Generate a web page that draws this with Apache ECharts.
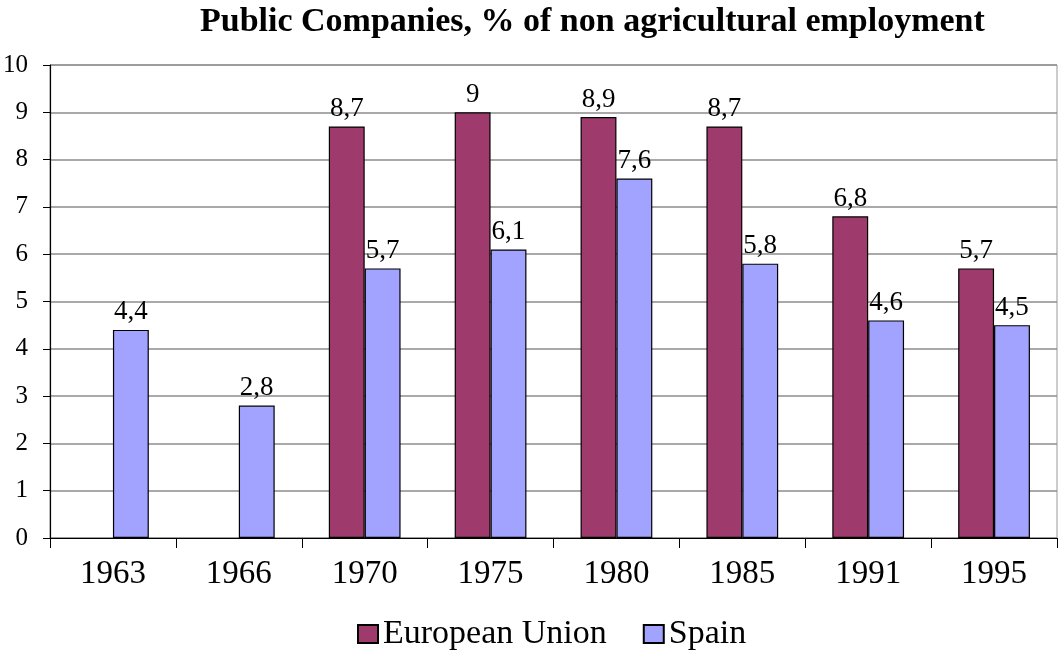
<!DOCTYPE html>
<html>
<head>
<meta charset="utf-8">
<script src="https://cdn.jsdelivr.net/npm/echarts@6/dist/echarts.min.js"></script>
<style>
  html, body { margin: 0; padding: 0; background: #fff; }
  #chart { width: 1060px; height: 656px; }
</style>
</head>
<body>
<div id="chart"></div>
<script>
// years on the x axis
const years = ['1963', '1966', '1970', '1975', '1980', '1985', '1991', '1995']
// % of non agricultural employment
const euValues = [null, null, 8.7, 9, 8.9, 8.7, 6.8, 5.7]
const spainValues = [4.4, 2.8, 5.7, 6.1, 7.6, 5.8, 4.6, 4.5]

const serif = '"Liberation Serif", "Times New Roman", serif'
const fmt = (p) => String(p.value).replace('.', ',')

const chart = echarts.init(document.getElementById('chart'))

chart.setOption({
  animation: false,
  title: {
    text: 'Public Companies, % of non agricultural employment',
    left: 195, top: 0,
    textStyle: { fontFamily: serif, fontSize: 34, fontWeight: 'bold', color: '#000' }
  },
  legend: {
    bottom: 0, left: 352,
    itemWidth: 20, itemHeight: 18, itemGap: 36,
    icon: 'rect',
    textStyle: { fontFamily: serif, fontSize: 34, color: '#000' },
    data: ['European Union', 'Spain']
  },
  grid: { left: 50, right: 3, top: 65, bottom: 118, show: true, borderColor: '#999', borderWidth: 1 },
  xAxis: {
    type: 'category',
    data: years,
    axisLine: { lineStyle: { color: '#000', width: 1.2 } },
    axisTick: { show: true, length: 10, lineStyle: { color: '#000' } },
    axisLabel: { fontFamily: serif, fontSize: 33, color: '#000', margin: 20 }
  },
  yAxis: {
    type: 'value',
    min: 0, max: 10, interval: 1,
    axisLine: { show: true, lineStyle: { color: '#000', width: 1.2 } },
    axisTick: { show: true, length: 7, lineStyle: { color: '#000' } },
    axisLabel: { fontFamily: serif, fontSize: 25, color: '#000', margin: 22 },
    splitLine: { lineStyle: { color: '#8c8c8c', width: 1.5 } }
  },
  series: [
    {
      name: 'European Union',
      type: 'bar',
      data: euValues,
      barGap: '0%',
      barCategoryGap: '43%',
      itemStyle: { color: '#9E3A6C', borderColor: '#000', borderWidth: 1.2 },
      label: { show: true, position: 'top', distance: 4, formatter: fmt,
        fontFamily: serif, fontSize: 27, color: '#000' }
    },
    {
      name: 'Spain',
      type: 'bar',
      data: spainValues,
      itemStyle: { color: '#A2A2FF', borderColor: '#000', borderWidth: 1.2 },
      label: { show: true, position: 'top', distance: 4, formatter: fmt,
        fontFamily: serif, fontSize: 27, color: '#000' }
    }
  ]
})
</script>
</body>
</html>
